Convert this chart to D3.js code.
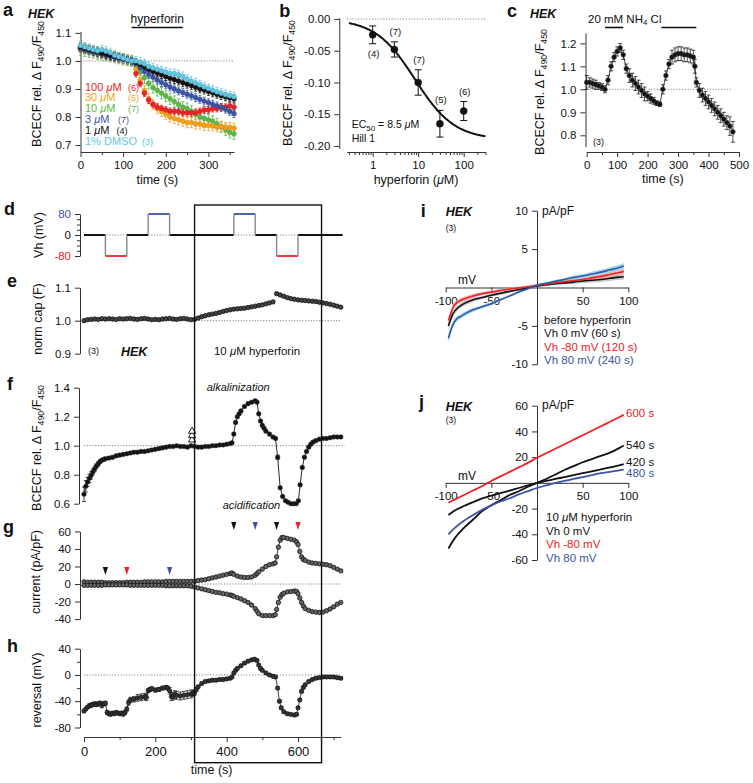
<!DOCTYPE html>
<html><head><meta charset="utf-8">
<script src="https://cdn.jsdelivr.net/npm/d3@7"></script>
<style>body{margin:0;background:#fff}svg{display:block}</style>
</head><body>
<script>
// ================= DATA =================
// panel a: pH time course (BCECF ratio), 6 conditions
const aTime=[0,10,20,30,40,50,60,70,80,90,100,110,120,130,140,150,160,170,180,190,200,210,220,230,240,250,260,270,280,290,300,310,320,330,340,350,360];
const aRed=[1.045,1.04,1.037,1.033,1.03,1.025,1.022,1.018,1.015,1.01,1.008,1.004,1.0,0.955,0.92,0.885,0.86,0.845,0.835,0.83,0.825,0.82,0.82,0.82,0.815,0.815,0.815,0.815,0.82,0.825,0.825,0.83,0.83,0.835,0.835,0.84,0.835];
const aOrange=[1.05,1.045,1.04,1.037,1.033,1.028,1.025,1.02,1.016,1.012,1.008,1.004,1.0,0.97,0.93,0.895,0.865,0.845,0.83,0.82,0.81,0.8,0.795,0.79,0.785,0.78,0.78,0.775,0.775,0.77,0.77,0.768,0.765,0.765,0.763,0.763,0.76];
const aGreen=[1.04,1.036,1.033,1.03,1.026,1.023,1.02,1.017,1.013,1.01,1.006,1.003,1.0,0.985,0.96,0.94,0.92,0.905,0.895,0.885,0.875,0.865,0.855,0.845,0.835,0.83,0.82,0.81,0.8,0.795,0.79,0.785,0.775,0.765,0.755,0.745,0.74];
const aBlue=[1.045,1.04,1.036,1.032,1.028,1.025,1.02,1.017,1.013,1.01,1.007,1.003,1.0,0.99,0.975,0.962,0.952,0.942,0.932,0.923,0.915,0.907,0.9,0.893,0.887,0.881,0.875,0.869,0.863,0.857,0.851,0.845,0.84,0.834,0.828,0.82,0.812];
const aBlack=[1.05,1.045,1.04,1.036,1.032,1.028,1.024,1.02,1.016,1.012,1.008,1.004,1.0,0.995,0.987,0.978,0.97,0.963,0.957,0.95,0.944,0.938,0.933,0.928,0.922,0.917,0.912,0.906,0.9,0.896,0.891,0.886,0.881,0.876,0.872,0.868,0.865];
const aCyan=[1.055,1.05,1.045,1.04,1.036,1.04,1.035,1.03,1.02,1.015,1.01,1.005,1.0,1.0,0.995,0.99,0.98,0.975,0.97,0.965,0.96,0.955,0.955,0.95,0.945,0.935,0.928,0.922,0.915,0.908,0.902,0.896,0.89,0.885,0.88,0.876,0.872];
const aSem=[0.012,0.018,0.02,0.014,0.014,0.016];
const aLabels=["100 μM","30 μM","10 μM","3 μM","1 μM","1% DMSO"];
const aN=["(6)","(5)","(7)","(7)","(4)","(3)"];
const aHyperforin=[120,240];
const aYTicks=[0.7,0.8,0.9,1.0,1.1], aXTicks=[0,100,200,300], aXMinor=[50,150,250,350];

// panel b: dose response
const bConc=[1,3,10,30,100];
const bMean=[-0.025,-0.048,-0.1,-0.165,-0.145];
const bSem=[0.014,0.012,0.02,0.021,0.015];
const bN=["(4)","(7)","(7)","(5)","(6)"];
const bEC50=8.5, bHill=1, bBottom=-0.19;
const bYTicks=[0,-0.05,-0.1,-0.15,-0.2], bXTicks=[1,10,100];
const bXMinor=[0.3,0.4,0.5,0.6,0.7,0.8,0.9,2,3,4,5,6,7,8,9,20,30,40,50,60,70,80,90,200,300];

// panel c: NH4Cl pulses  [t, ratio, sem]
const cData=[[0,1.03,.03],[10,1.03,.02],[20,1.025,.02],[30,1.02,.02],[40,1.015,.015],[50,1.01,.015],[60,1.0,.015],[70,1.04,.02],[80,1.1,.02],[90,1.14,.02],[100,1.165,.02],[110,1.18,.02],[120,1.15,.02],[130,1.09,.02],[140,1.06,.03],[150,1.04,.03],[160,1.025,.03],[170,1.01,.03],[180,0.995,.03],[190,0.98,.03],[200,0.97,.02],[210,0.96,.02],[220,0.95,.015],[230,0.94,.01],[240,0.935,.01],[250,1.0,.02],[260,1.06,.02],[270,1.11,.02],[280,1.14,.03],[290,1.15,.03],[300,1.155,.03],[310,1.155,.03],[320,1.15,.03],[330,1.15,.03],[340,1.145,.03],[350,1.14,.03],[355,1.1,.03],[360,1.03,.02],[370,0.995,.03],[380,0.975,.03],[390,0.96,.03],[400,0.945,.03],[410,0.93,.03],[420,0.915,.03],[430,0.9,.03],[440,0.885,.03],[450,0.87,.03],[460,0.855,.03],[470,0.84,.04],[480,0.815,.045]];
const cNH4=[[60,120],[245,360]];
const cYTicks=[0.8,0.9,1.0,1.1,1.2], cXTicks=[0,100,200,300,400,500], cXMinor=[50,150,250,350,450];

// panel d: holding potential protocol
const dEdges=[0,60,120,180,240,420,480,540,600,725];
const dVh=[0,-80,0,80,0,80,0,-80,0];
const dTicks=[-80,0,80], dMinor=[-60,-40,-20,20,40,60];
const hyperforinWindow=[310,666];

// panel e: normalized capacitance [t, value]
const eData=[[0,1.0],[10,1.003],[20,1.004],[30,1.005],[40,1.004],[50,1.006],[60,1.005],[70,1.006],[80,1.005],[90,1.004],[100,1.006],[110,1.005],[120,1.006],[130,1.007],[140,1.005],[150,1.004],[160,1.006],[170,1.007],[180,1.005],[190,1.003],[200,1.004],[210,1.003],[220,1.005],[230,1.006],[240,1.007],[250,1.005],[260,1.004],[270,1.006],[280,1.007],[290,1.005],[300,1.003],[310,1.004],[320,1.008],[330,1.012],[340,1.015],[350,1.018],[360,1.02],[370,1.022],[380,1.025],[390,1.028],[400,1.031],[410,1.033],[420,1.035],[430,1.036],[440,1.037],[450,1.038],[460,1.04],[470,1.042],[480,1.044],[490,1.046],[500,1.048],[510,1.051],[520,1.054],[530,1.057],[540,1.082],[550,1.078],[560,1.074],[570,1.07],[580,1.067],[590,1.065],[600,1.063],[610,1.062],[620,1.061],[630,1.06],[640,1.059],[650,1.058],[660,1.056],[670,1.054],[680,1.052],[690,1.05],[700,1.047],[710,1.044],[720,1.041]];
const eTicks=[0.9,1.0,1.1];

// panel f: BCECF ratio during patch [t, value, sem]
const fData=[[0,0.665,.05],[5,0.72,.04],[10,0.75,.03],[15,0.775,.03],[20,0.795,.025],[25,0.82,.02],[30,0.84,.02],[35,0.86,.015],[40,0.875,.015],[45,0.89,.01],[50,0.9,.01],[55,0.905,.01],[60,0.91,.01],[70,0.915,.01],[80,0.92,.01],[90,0.93,.01],[100,0.935,.008],[110,0.94,.008],[120,0.945,.008],[130,0.95,.008],[140,0.955,.008],[150,0.955,.008],[160,0.96,.008],[170,0.96,.008],[180,0.965,.008],[190,0.97,.008],[200,0.975,.008],[210,0.98,.008],[220,0.985,.008],[230,0.99,.008],[240,0.995,.008],[250,0.995,.008],[260,1.0,.008],[270,0.995,.008],[280,0.995,.008],[290,0.99,.008],[300,1.0,.008],[310,0.995,.005],[320,0.99,.005],[330,0.99,.005],[340,0.995,.005],[350,0.995,.005],[360,1.0,.005],[370,1.0,.005],[380,1.005,.005],[390,1.005,.005],[400,1.01,.005],[410,1.015,.005],[415,1.02,.005],[420,1.08,.008],[425,1.16,.008],[430,1.2,.008],[435,1.22,.008],[440,1.24,.008],[450,1.27,.008],[460,1.29,.008],[470,1.3,.008],[480,1.31,.008],[485,1.3,.008],[490,1.22,.008],[495,1.17,.008],[500,1.14,.008],[505,1.12,.008],[510,1.1,.008],[520,1.08,.008],[530,1.06,.008],[537,1.05,.008],[543,0.92,.015],[550,0.71,.008],[557,0.65,.008],[565,0.62,.005],[572,0.61,.005],[580,0.6,.005],[588,0.6,.005],[595,0.6,.005],[601,0.62,.005],[606,0.73,.008],[612,0.85,.008],[618,0.92,.008],[624,0.96,.008],[630,0.99,.008],[636,1.01,.008],[642,1.025,.008],[650,1.035,.008],[660,1.045,.008],[670,1.05,.008],[680,1.05,.008],[690,1.055,.008],[700,1.06,.008],[710,1.06,.008],[720,1.06,.008]];
const fMixTime=303, fMix=[1.04,1.07,1.1];
const fTicks=[0.6,0.8,1.0,1.2,1.4];

// panel g: current at +80 / -80 mV  [t, outward, inward]
const gData=[[0,2.5,-1.5],[10,2,-1.5],[20,2,-1.5],[30,2,-1.5],[40,2,-1.5],[50,2,-1.5],[60,1.5,-1],[70,1.5,-1],[80,1.5,-1],[90,1.5,-1],[100,1.5,-1],[110,1.5,-1],[120,2,-1],[130,2,-1.5],[140,2,-1.5],[150,2,-1.5],[160,2,-1.5],[170,2.5,-1.5],[180,2.5,-1.5],[190,2.5,-1.5],[200,2.5,-1.5],[210,2.5,-1.5],[220,2.5,-1.5],[230,3,-2],[240,3,-2],[250,3,-2],[260,3,-2],[270,3,-2],[280,3,-2],[290,3,-2],[300,3,-2.5],[310,3,-3.5],[320,4,-4.5],[330,4.5,-5.5],[340,5,-6.5],[350,6,-7.5],[360,7,-8.5],[370,8,-9.5],[380,9,-10],[390,10,-11],[400,11,-11.5],[410,12,-12.5],[415,12.5,-13],[420,11,-14],[430,9,-15.5],[440,8,-17],[450,7.5,-19],[460,7.5,-21],[470,8,-24],[480,10,-28],[485,12,-31],[490,14,-34],[500,17,-36],[510,20,-36],[520,22,-36],[530,23,-36],[536,24,-35],[540,31,-29],[545,42,-21],[550,50,-15],[555,53,-12],[560,53,-10.5],[570,52,-9],[580,51,-8.5],[590,50,-8],[596,48,-8.5],[600,45,-11],[605,37,-16],[610,31,-21],[615,28,-25],[620,27,-28],[630,25,-30],[640,24,-31.5],[650,23.5,-32],[660,23,-32.5],[670,22.5,-32],[680,22,-30.5],[690,21,-28.5],[700,19,-26],[710,17,-23],[720,15,-21]];
const gArrowT=[60,120,240,420,480,540,600];
const gArrowVh=[0,-80,80,0,80,0,-80];
const gTicks=[-40,-20,0,20,40,60];

// panel h: reversal potential [t, mV, sem]
const hData=[[0,-55,2],[5,-52,2],[10,-49,2],[15,-47,3],[20,-46,3],[25,-45,3],[30,-44,3],[35,-45,3],[40,-44,3],[45,-43,3],[50,-46,4],[55,-44,3],[60,-43,3],[65,-57,3],[70,-59,3],[75,-60,2],[80,-58,2],[85,-59,2],[90,-57,2],[95,-58,2],[100,-59,2],[105,-58,2],[110,-60,2],[115,-57,3],[120,-52,3],[125,-42,4],[130,-38,4],[140,-37,4],[150,-35,5],[160,-34,5],[170,-33,5],[175,-34,5],[180,-24,3],[185,-22,3],[190,-21,3],[200,-23,3],[210,-22,3],[220,-20,3],[230,-19,3],[235,-20,3],[240,-24,5],[245,-33,6],[250,-32,6],[255,-30,6],[260,-31,6],[270,-32,6],[280,-31,6],[290,-30,6],[300,-29,6],[305,-28,5],[310,-27,4],[315,-22,3],[320,-18,2],[330,-13,2],[340,-10,2],[350,-9,2],[360,-8,2],[370,-8,2],[380,-7,2],[390,-7,2],[400,-6,2],[410,-5,2],[415,-3,2],[420,3,2],[425,7,2],[430,10,2],[440,14,2],[450,18,2],[460,21,2],[470,23,2],[478,24,2],[485,22,2],[490,15,2],[495,10,2],[500,7,2],[510,3,2],[520,0,2],[530,-2,2],[537,-3,2],[543,-20,2],[548,-40,2],[553,-50,2],[560,-56,2],[570,-59,2],[580,-60,2],[590,-61,2],[596,-60,2],[600,-50,2],[605,-38,2],[610,-25,2],[615,-19,2],[620,-15,2],[630,-10,2],[640,-7,2],[650,-5,2],[660,-4,2],[670,-3,2],[680,-3,2],[690,-3,2],[700,-3,2],[710,-4,2],[720,-5,2]];
const hTicks=[-80,-40,0,40], hMinor=[-60,-20,20];
const lowXTicks=[0,200,400,600], lowXMinor=[100,300,500,700];

// panel i: I-V before hyperforin
const iV=[-97,-95,-92,-88,-84,-80,-70,-60,-50,-40,-30,-20,-10,0,10,20,30,40,50,60,70,80,90,95];
const iVh0=[-5.0,-4.3,-3.4,-2.8,-2.4,-2.1,-1.6,-1.3,-1.0,-0.75,-0.5,-0.3,-0.05,0.2,0.35,0.5,0.6,0.7,0.85,0.95,1.05,1.2,1.35,1.4];
const iVhm80=[-4.3,-3.6,-2.6,-2.0,-1.7,-1.5,-1.1,-0.8,-0.6,-0.4,-0.2,-0.05,0.1,0.3,0.45,0.6,0.75,0.9,1.05,1.25,1.45,1.7,1.95,2.1];
const iVh80=[-6.6,-5.8,-4.8,-4.1,-3.8,-3.5,-2.9,-2.5,-2.1,-1.6,-1.1,-0.6,-0.15,0.3,0.55,0.8,1.05,1.3,1.5,1.75,2.0,2.3,2.6,2.8];
const iSem=[0.6,0.5,0.4,0.35,0.3,0.3,0.25,0.2,0.2,0.2,0.15,0.15,0.15,0.15,0.15,0.2,0.2,0.25,0.25,0.3,0.3,0.35,0.35,0.4];
const iYTicks=[-10,-5,5,10], ivXTicks=[-100,-50,50,100];

// panel j: I-V with hyperforin
const jV=[-97,-90,-80,-70,-60,-50,-40,-30,-20,-10,0,10,20,30,40,50,60,70,80,90,95];
const j600=[-15.5,-13,-9.5,-6,-2.5,1.5,5,8.5,12,15.5,19.5,23,26.5,30,33.5,37,40.5,44,47.5,51,53];
const j540=[-51,-43,-35,-28.5,-22,-17.5,-13.5,-9.5,-6.5,-3,0,3,6.5,10,13,16,18.5,21,23.5,27,29];
const j420=[-25,-21.5,-18,-15,-12,-10,-8,-6,-4,-2,0,1.5,3,4.5,6,7.5,9,10.5,12,13.5,14.5];
const j480=[-40,-35,-29.5,-25,-21,-17.5,-14.5,-12,-9,-6.5,-4,-2,0,1.5,3,4.5,6,7.5,8.5,9.7,10.3];
const jYTicks=[-60,-40,-20,20,40,60];

// ================= DRAWING =================
const F="'Liberation Sans', Arial, Helvetica, sans-serif";
const C={red:"#ec2227",orange:"#f7a11a",green:"#5cb848",blue:"#3a55a5",black:"#111",cyan:"#63c7e3"};
const vhColor=v=>v>0?C.blue:(v<0?C.red:"#111");
const svg=d3.select("body").append("svg").attr("width",753).attr("height",783).style("font-family",F);
const num=s=>d=>d3.format(s)(d).replace("\u2212","-");

function rich(parent,x,y,parts,o={}){
  const t=parent.append("text").attr("x",x).attr("y",y).attr("font-size",o.fs||12).attr("fill",o.fill||"#111");
  if(o.anchor)t.attr("text-anchor",o.anchor);
  if(o.bold)t.attr("font-weight","bold");
  if(o.italic)t.attr("font-style","italic");
  if(o.transform)t.attr("transform",o.transform);
  parts.forEach(p=>{
    const [s,po]=typeof p==="string"?[p,{}]:p;
    const ts=t.append("tspan").text(s);
    if(po.fs)ts.attr("font-size",po.fs);
    if(po.dy)ts.attr("dy",po.dy);
    if(po.dx)ts.attr("dx",po.dx);
    if(po.italic)ts.attr("font-style","italic");
    if(po.fill)ts.attr("fill",po.fill);
  });
  return t;
}
const txt=(x,y,s,o={})=>rich(svg,x,y,[s],o);
function muParts(s,extra={}){
  const out=[];s.split(/(μ)/).forEach(p=>{if(p==="μ")out.push([p,Object.assign({italic:true},extra)]);else if(p)out.push([p,extra]);});return out;}

function dress(g,fs){g.attr("font-family",F).attr("font-size",fs);
  g.selectAll(".domain,.tick line").attr("stroke","#333").attr("stroke-width",1);
  g.selectAll(".tick text").attr("fill","#111");}
function yAxis(scale,x,ticks,fmt,fs,minor,pad=4){
  const g=svg.append("g").attr("transform",`translate(${x},0)`)
    .call(d3.axisLeft(scale).tickValues(ticks).tickFormat(fmt).tickSize(5).tickPadding(pad).tickSizeOuter(0));
  dress(g,fs);
  if(minor){const m=svg.append("g").attr("transform",`translate(${x},0)`)
    .call(d3.axisLeft(scale).tickValues(minor).tickFormat("").tickSize(3).tickSizeOuter(0));
    m.select(".domain").remove();dress(m,fs);}
  return g;}
function xAxis(scale,y,ticks,fmt,fs,minor,pad=4){
  const g=svg.append("g").attr("transform",`translate(0,${y})`)
    .call(d3.axisBottom(scale).tickValues(ticks).tickFormat(fmt).tickSize(5).tickPadding(pad).tickSizeOuter(0));
  dress(g,fs);
  if(minor){const m=svg.append("g").attr("transform",`translate(0,${y})`)
    .call(d3.axisBottom(scale).tickValues(minor).tickFormat("").tickSize(3).tickSizeOuter(0));
    m.select(".domain").remove();dress(m,fs);}
  return g;}
function dotted(x1,x2,y){svg.append("line").attr("x1",x1).attr("x2",x2).attr("y1",y).attr("y2",y)
  .attr("stroke","#777").attr("stroke-width",0.9).attr("stroke-dasharray","1.2,1.6");}
function errBars(data,xf,ylo,yhi,color,cap,w=0.9){
  const g=svg.append("g").attr("stroke",color).attr("stroke-width",w);
  data.forEach(d=>{const x=xf(d),a=ylo(d),b=yhi(d);
    g.append("line").attr("x1",x).attr("x2",x).attr("y1",a).attr("y2",b);
    g.append("line").attr("x1",x-cap).attr("x2",x+cap).attr("y1",a).attr("y2",a);
    g.append("line").attr("x1",x-cap).attr("x2",x+cap).attr("y1",b).attr("y2",b);});}
function dots(data,xf,yf,r,fill,stroke,sw=0.8){
  svg.append("g").selectAll("circle").data(data).join("circle")
    .attr("cx",xf).attr("cy",yf).attr("r",r).attr("fill",fill).attr("stroke",stroke).attr("stroke-width",sw);}
function ratioTitle(x,y,fs=12.5){
  rich(svg,0,0,["BCECF rel. Δ F",["490",{fs:fs*0.7,dy:3}],["/F",{dy:-3}],["450",{fs:fs*0.7,dy:3}]],
    {fs,anchor:"middle",transform:`translate(${x},${y}) rotate(-90)`});}
function vTitle(x,y,s,fs=12.5){rich(svg,0,0,muParts(s),{fs,anchor:"middle",transform:`translate(${x},${y}) rotate(-90)`});}
function letter(x,y,s){txt(x,y,s,{fs:18,bold:true});}

// ---------- panel a ----------
const xA=d3.scaleLinear([0,360],[80.5,234]), yA=d3.scaleLinear([0.677,1.105],[151.5,31.5]);
yAxis(yA,80.5,aYTicks,num(".1f"),11.5);
xAxis(xA,152,aXTicks,num("d"),11.5,aXMinor);
dotted(80.5,234,yA(1));
const aSeries=[{v:aGreen,c:C.green,s:aSem[2]},{v:aOrange,c:C.orange,s:aSem[1]},{v:aRed,c:C.red,s:aSem[0]},
  {v:aBlue,c:C.blue,s:aSem[3]},{v:aBlack,c:C.black,s:aSem[4]},{v:aCyan,c:C.cyan,s:aSem[5]}];
aSeries.forEach(S=>{const d=aTime.map((t,i)=>[t,S.v[i]]);
  errBars(d,p=>xA(p[0]),p=>yA(p[1]-S.s),p=>yA(p[1]+S.s),S.c,1.5,0.8);});
aSeries.forEach(S=>{const d=aTime.map((t,i)=>[t,S.v[i]]);
  dots(d,p=>xA(p[0]),p=>yA(p[1]),2.4,S.c,d3.color(S.c).darker(0.4),0.6);});
letter(3,15.7,"a");
txt(28,18.3,"HEK",{fs:12.5,bold:true,italic:true});
txt(xA(180),23,"hyperforin",{fs:12,anchor:"middle"});
svg.append("line").attr("x1",xA(aHyperforin[0])).attr("x2",xA(aHyperforin[1])).attr("y1",27.5).attr("y2",27.5).attr("stroke","#111").attr("stroke-width",1.6);
const aLegColors=[C.red,C.orange,C.green,C.blue,C.black,C.cyan];
const aNx=[128,128,128,118,116.5,142];
aLabels.forEach((l,i)=>{const y=90.5+i*10.8;
  rich(svg,85,y,muParts(l),{fs:11,fill:aLegColors[i]});
  txt(aNx[i],y,aN[i],{fs:9,fill:aLegColors[i]});});
ratioTitle(40.5,84);
txt(xA(180),184,"time (s)",{fs:12.5,anchor:"middle"});

// ---------- panel b ----------
const xB=d3.scaleLog([0.27,300],[346.8,485.4]), yB=d3.scaleLinear([-0.204,0.002],[148.5,17.7]);
yAxis(yB,339.3,bYTicks,num(".2f"),11.5);
xAxis(xB,152,bXTicks,d=>d,11.5,bXMinor);
dotted(346.8,485.4,yB(0));
const fitPts=d3.range(Math.log10(0.3),Math.log10(300)+0.001,0.02).map(l=>{const c=10**l;return [c,bBottom*Math.pow(c,bHill)/(Math.pow(c,bHill)+Math.pow(bEC50,bHill))];});
svg.append("path").attr("d",d3.line().x(d=>xB(d[0])).y(d=>yB(d[1])).curve(d3.curveBasis)(fitPts))
  .attr("fill","none").attr("stroke","#111").attr("stroke-width",2);
const bD=bConc.map((c,i)=>({c,m:bMean[i],s:bSem[i],n:bN[i]}));
errBars(bD,d=>xB(d.c),d=>yB(d.m-d.s),d=>yB(d.m+d.s),"#111",3.5,1);
dots(bD,d=>xB(d.c),d=>yB(d.m),3.5,"#111","#111",0.5);
bD.forEach((d,i)=>{const y=i===0?yB(d.m-d.s)+13:yB(d.m+d.s)-7;
  txt(xB(d.c)+1,y,d.n,{fs:9.5,anchor:"middle"});});
rich(svg,351.7,128,["EC",["50",{fs:8,dy:3}],[" = 8.5 ",{dy:-3}],["μ",{italic:true}],"M"],{fs:10.5});
txt(351.7,141.5,"Hill 1",{fs:10.5});
letter(279.3,16.7,"b");
ratioTitle(292,83);
rich(svg,416,184,["hyperforin (",["μ",{italic:true}],"M)"],{fs:12.5,anchor:"middle"});

// ---------- panel c ----------
const xC=d3.scaleLinear([0,500],[586.7,739]), yC=d3.scaleLinear([0.75,1.245],[146.8,33]);
yAxis(yC,585.5,cYTicks,num(".1f"),11.5);
xAxis(xC,152,cXTicks,num("d"),11.5,cXMinor);
dotted(586.7,732,yC(1));
errBars(cData,d=>xC(d[0]),d=>yC(d[1]-d[2]),d=>yC(d[1]+d[2]),"#222",2,0.8);
svg.append("path").attr("d",d3.line().x(d=>xC(d[0])).y(d=>yC(d[1]))(cData)).attr("fill","none").attr("stroke","#111").attr("stroke-width",0.8);
dots(cData,d=>xC(d[0]),d=>yC(d[1]),2.4,"#111","#444",0.5);
cNH4.forEach(b=>svg.append("line").attr("x1",xC(b[0])).attr("x2",xC(b[1])).attr("y1",27.5).attr("y2",27.5).attr("stroke","#111").attr("stroke-width",1.6));
rich(svg,588,23.3,["20 mM NH",["4",{fs:8,dy:2}],[" Cl",{dy:-2}]],{fs:11.5});
letter(507,16.7,"c");
txt(530,18.3,"HEK",{fs:12.5,bold:true,italic:true});
txt(593,145,"(3)",{fs:9});
ratioTitle(544,92);
txt(xC(250),182.5,"time (s)",{fs:12.5,anchor:"middle"});

// ---------- lower left panels (d-h) ----------
const xL=d3.scaleLinear([0,720],[84,340.8]);
// d
const yD=d3.scaleLinear([-80,80],[256,214]);
const dAx=yAxis(yD,80,dTicks,num("d"),11.5,dMinor);
dAx.selectAll(".tick text").attr("fill",d=>vhColor(d));
dotted(xL(0),xL(725),yD(0));
for(let i=0;i<dVh.length;i++){
  svg.append("line").attr("x1",xL(dEdges[i])).attr("x2",xL(dEdges[i+1])).attr("y1",yD(dVh[i])).attr("y2",yD(dVh[i]))
    .attr("stroke",vhColor(dVh[i])).attr("stroke-width",dVh[i]===0?2:1.8);
  if(i>0)svg.append("line").attr("x1",xL(dEdges[i])).attr("x2",xL(dEdges[i])).attr("y1",yD(dVh[i-1])).attr("y2",yD(dVh[i]))
    .attr("stroke","#888").attr("stroke-width",1.4);
}
letter(4,215,"d");
vTitle(43,235,"Vh (mV)");
// e
const yE=d3.scaleLinear([0.9,1.1],[353.7,287.7]);
yAxis(yE,80,eTicks,num(".1f"),11.5);
dotted(xL(0),xL(720),yE(1));
dots(eData,d=>xL(d[0]),d=>yE(d[1]),2.2,"#444","#111",0.8);
letter(7,287.3,"e");
vTitle(42,319,"norm cap (F)");
txt(88,354,"(3)",{fs:9});
txt(121,355.5,"HEK",{fs:12.5,bold:true,italic:true});
rich(svg,257,355,["10 ",["μ",{italic:true}],"M hyperforin"],{fs:11.5,anchor:"middle"});
// f
const yF=d3.scaleLinear([0.6,1.4],[503.7,387.7]);
yAxis(yF,79,fTicks,num(".1f"),11.5);
dotted(xL(0),xL(720)+4,yF(1));
errBars(fData,d=>xL(d[0]),d=>yF(d[1]-d[2]),d=>yF(d[1]+d[2]),"#222",2,0.8);
svg.append("path").attr("d",d3.line().x(d=>xL(d[0])).y(d=>yF(d[1]))(fData)).attr("fill","none").attr("stroke","#111").attr("stroke-width",0.9);
dots(fData,d=>xL(d[0]),d=>yF(d[1]),2.3,"#111","#333",0.5);
svg.append("g").selectAll("path").data(fMix).join("path")
  .attr("d",d3.symbol(d3.symbolTriangle).size(22)).attr("transform",d=>`translate(${xL(fMixTime)},${yF(d)})`)
  .attr("fill","#fff").attr("stroke","#111").attr("stroke-width",0.9);
letter(7,390,"f");
ratioTitle(41,448);
txt(206.7,391,"alkalinization",{fs:11,italic:true});
txt(222.7,509,"acidification",{fs:11,italic:true});
// g
const yG=d3.scaleLinear([-40,60],[619.1,531.4]);
yAxis(yG,80,gTicks,num("d"),11.5);
dotted(xL(0),xL(720),yG(0));
[1,2].forEach(k=>{
  svg.append("path").attr("d",d3.line().x(d=>xL(d[0])).y(d=>yG(d[k]))(gData)).attr("fill","none").attr("stroke","#111").attr("stroke-width",0.8);
  dots(gData,d=>xL(d[0]),d=>yG(d[k]),2.2,"#666","#111",0.8);});
gArrowT.forEach((t,i)=>{const x=xL(t),top=t<hyperforinWindow[0]?567:522;
  svg.append("path").attr("d",`M${x-2.6},${top}L${x+2.6},${top}L${x},${top+8}Z`).attr("fill",vhColor(gArrowVh[i]));});
letter(3,533,"g");
vTitle(40,572,"current (pA/pF)");
// h
const yH=d3.scaleLinear([-80,40],[727.5,648.7]);
yAxis(yH,80,hTicks,num("d"),11.5,hMinor);
dotted(xL(0),xL(720),yH(0));
errBars(hData,d=>xL(d[0]),d=>yH(d[1]-d[2]),d=>yH(d[1]+d[2]),"#222",2,0.8);
svg.append("path").attr("d",d3.line().x(d=>xL(d[0])).y(d=>yH(d[1]))(hData)).attr("fill","none").attr("stroke","#111").attr("stroke-width",0.8);
dots(hData,d=>xL(d[0]),d=>yH(d[1]),2.2,"#333","#111",0.6);
letter(7,651.7,"h");
vTitle(41,690,"reversal (mV)");
xAxis(xL,737,lowXTicks,num("d"),13,lowXMinor,5);
txt(211.7,774,"time (s)",{fs:12.5,anchor:"middle"});
svg.append("rect").attr("x",xL(hyperforinWindow[0])).attr("y",205).attr("width",xL(hyperforinWindow[1])-xL(hyperforinWindow[0])).attr("height",557.7)
  .attr("fill","none").attr("stroke","#111").attr("stroke-width",1.4);

// ---------- panel i ----------
const xI=d3.scaleLinear([-100,100],[445.7,628.3]), yI=d3.scaleLinear([-10,10],[364.3,210.7]);
yAxis(yI,xI(0),iYTicks,num("d"),11.5);
xAxis(xI,yI(0),ivXTicks,num("d"),11.5);
const iSets=[{v:iVh0,c:"#111",b:"#b5b5b5"},{v:iVhm80,c:C.red,b:"#f3a3a3"},{v:iVh80,c:C.blue,b:"#7fd0ea"}];
iSets.forEach(S=>{const d=iV.map((v,k)=>({x:v,y:S.v[k],s:iSem[k]}));
  svg.append("path").attr("d",d3.area().x(p=>xI(p.x)).y0(p=>yI(p.y-p.s)).y1(p=>yI(p.y+p.s)).curve(d3.curveMonotoneX)(d))
    .attr("fill",S.b).attr("opacity",0.75);});
iSets.forEach(S=>{const d=iV.map((v,k)=>({x:v,y:S.v[k]}));
  svg.append("path").attr("d",d3.line().x(p=>xI(p.x)).y(p=>yI(p.y)).curve(d3.curveMonotoneX)(d))
    .attr("fill","none").attr("stroke",S.c).attr("stroke-width",1.6);});
letter(420.7,216.7,"i");
txt(445.7,215.7,"HEK",{fs:12.5,bold:true,italic:true});
txt(445.7,230.7,"(3)",{fs:8.5});
txt(542,214.7,"pA/pF",{fs:12});
txt(458,284.3,"mV",{fs:12});
txt(544,323.5,"before hyperforin",{fs:11.5});
txt(544,337,"Vh 0 mV (60 s)",{fs:11.5});
txt(544,350.5,"Vh -80 mV (120 s)",{fs:11.5,fill:C.red});
txt(544,364,"Vh 80 mV (240 s)",{fs:11.5,fill:C.blue});

// ---------- panel j ----------
const yJ=d3.scaleLinear([-60,60],[560,405.7]);
yAxis(yJ,xI(0),jYTicks,num("d"),11.5);
xAxis(xI,yJ(0),ivXTicks,num("d"),11.5);
const jSets=[{v:j420,c:"#111"},{v:j540,c:"#111"},{v:j480,c:C.blue},{v:j600,c:C.red}];
jSets.forEach(S=>{const d=jV.map((v,k)=>({x:v,y:S.v[k]}));
  svg.append("path").attr("d",d3.line().x(p=>xI(p.x)).y(p=>yJ(p.y)).curve(d3.curveMonotoneX)(d))
    .attr("fill","none").attr("stroke",S.c).attr("stroke-width",1.8);});
letter(419,408,"j");
txt(445.7,410.7,"HEK",{fs:12.5,bold:true,italic:true});
txt(445.7,423,"(3)",{fs:8.5});
txt(542,409.3,"pA/pF",{fs:12});
txt(458,480,"mV",{fs:12});
txt(626,416.7,"600 s",{fs:11.5,fill:C.red});
txt(626,449.3,"540 s",{fs:11.5});
txt(626,465.7,"420 s",{fs:11.5});
txt(626,477.3,"480 s",{fs:11.5,fill:C.blue});
rich(svg,546,521,["10 ",["μ",{italic:true}],"M hyperforin"],{fs:11.5});
txt(546,534.7,"Vh 0 mV",{fs:11.5});
txt(546,548.4,"Vh -80 mV",{fs:11.5,fill:C.red});
txt(546,562,"Vh 80 mV",{fs:11.5,fill:C.blue});
</script>
</body></html>
